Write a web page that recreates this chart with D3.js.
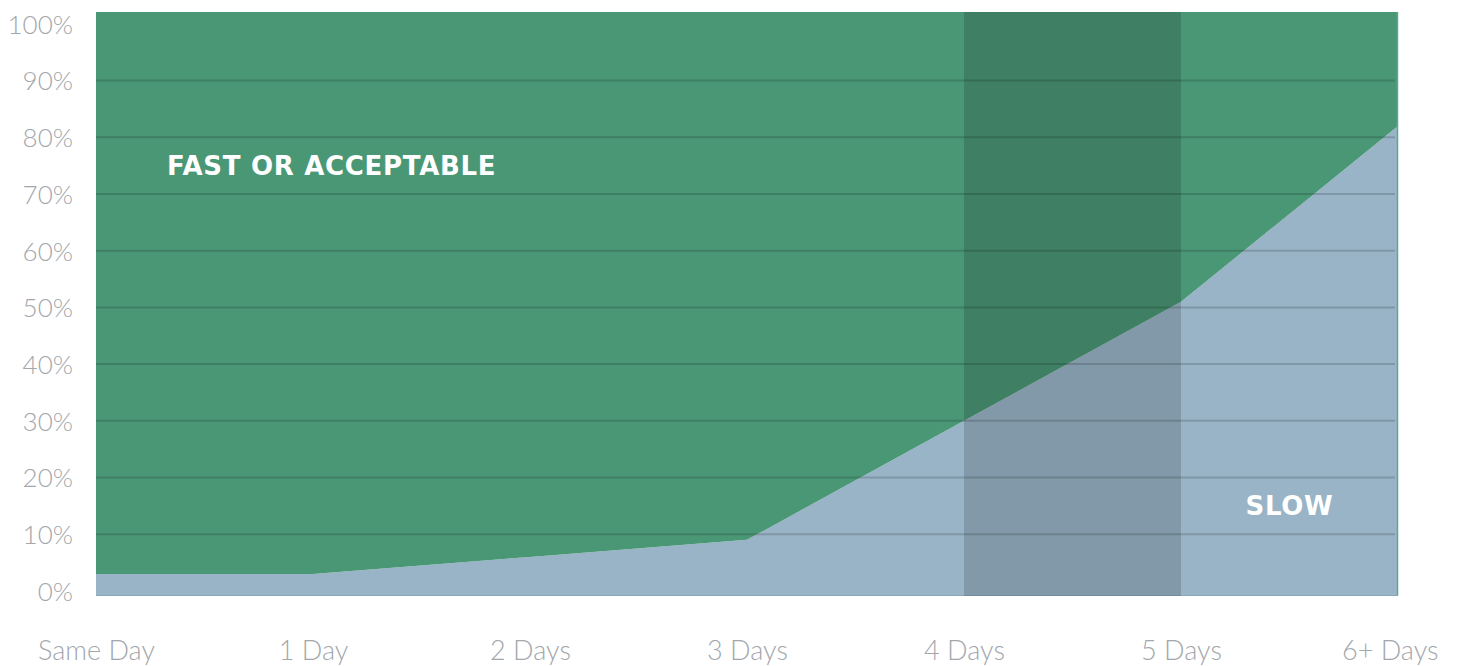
<!DOCTYPE html>
<html>
<head>
<meta charset="utf-8">
<script src="https://cdn.jsdelivr.net/npm/d3@7"></script>
<style>
  html, body { margin: 0; padding: 0; background: #ffffff; }
  svg { display: block; }
</style>
</head>
<body>
<svg id="chart" width="1457" height="666"></svg>
<script>
// ---- data ----
const categories = ["Same Day", "1 Day", "2 Days", "3 Days", "4 Days", "5 Days", "6+ Days"];
const slowValues = [3, 3, 6, 9, 30, 51, 82];           // % "Slow"
const fastValues = slowValues.map(v => 100 - v);       // % "Fast or acceptable" (remainder)
const yTicks = [0, 10, 20, 30, 40, 50, 60, 70, 80, 90, 100];
const gridTicks = [10, 20, 30, 40, 50, 60, 70, 80, 90];
const highlightRange = ["4 Days", "5 Days"];
const seriesLabels = { fast: "FAST OR ACCEPTABLE", slow: "SLOW" };

// ---- layout ----
const W = 1457, H = 666;
const plot = { left: 96, right: 1398, top: 12, bottom: 596 };
const colors = { fast: "#4a9776", slow: "#98b4c6", grid: "rgba(0,0,0,0.16)", band: "rgba(0,0,0,0.15)", tick: "#a3a7ac" };

const svg = d3.select("#chart");

const x = d3.scalePoint().domain(categories).range([plot.left, plot.right]);
const y = d3.scaleLinear().domain([-0.9, 102.1]).range([plot.bottom, plot.top]);

const table = categories.map((c, i) => ({ cat: c, slow: slowValues[i], fast: fastValues[i] }));
const stack = d3.stack().keys(["slow", "fast"]);
const series = stack(table);

const yEdge = v => v <= 0 ? y.range()[0] : (v >= 100 ? y.range()[1] : y(v));
const area = d3.area()
  .x(d => x(d.data.cat))
  .y0(d => yEdge(d[0]))
  .y1(d => yEdge(d[1]));

svg.append("g").selectAll("path")
  .data(series)
  .join("path")
  .attr("d", area)
  .attr("fill", d => colors[d.key]);

// right & bottom edge accents
svg.append("line")
  .attr("x1", plot.right - 0.5).attr("x2", plot.right - 0.5)
  .attr("y1", plot.top).attr("y2", plot.bottom)
  .attr("stroke", "#5fa793").attr("stroke-width", 1.5);
svg.append("line")
  .attr("x1", plot.left).attr("x2", plot.right)
  .attr("y1", plot.bottom - 0.5).attr("y2", plot.bottom - 0.5)
  .attr("stroke", "#8aa9b5").attr("stroke-width", 1);

// highlight band
svg.append("rect")
  .attr("x", x(highlightRange[0]))
  .attr("width", x(highlightRange[1]) - x(highlightRange[0]))
  .attr("y", plot.top)
  .attr("height", plot.bottom - plot.top)
  .attr("fill", colors.band);

// gridlines
svg.append("g").selectAll("line")
  .data(gridTicks)
  .join("line")
  .attr("x1", plot.left)
  .attr("x2", plot.right - 3)
  .attr("y1", d => y(d))
  .attr("y2", d => y(d))
  .attr("stroke", colors.grid)
  .attr("stroke-width", 2);

// y axis
const yAxis = d3.axisLeft(y).tickValues(yTicks).tickFormat(d => d + "%").tickSize(0).tickPadding(0);
const gy = svg.append("g").attr("transform", `translate(${plot.left - 23},1)`).call(yAxis);
gy.select(".domain").remove();
gy.selectAll("text")
  .attr("fill", colors.tick)
  .style("font-family", "Lato, 'Open Sans', sans-serif")
  .style("font-weight", 300)
  .style("font-size", "26px");

// x axis
const xAxis = d3.axisBottom(x).tickSize(0).tickPadding(0);
const gx = svg.append("g").attr("transform", `translate(0,${plot.bottom + 45})`).call(xAxis);
gx.select(".domain").remove();
gx.selectAll("text")
  .attr("fill", colors.tick)
  .style("font-family", "Lato, 'Open Sans', sans-serif")
  .style("font-weight", 300)
  .style("font-size", "27px")
  .attr("text-anchor", (d, i) => i === categories.length - 1 ? "end" : "middle")
  .attr("dx", (d, i) => i === categories.length - 1 ? 40 : 0);

// series labels
const labelStyle = sel => sel
  .attr("fill", "#ffffff")
  .style("font-family", "'DejaVu Sans', Lato, sans-serif")
  .style("font-weight", 700)
  .style("font-size", "26px")
  .style("letter-spacing", "0.7px");

svg.append("text")
  .attr("x", x(categories[0]) + 71)
  .attr("y", y(75))
  .attr("dy", "0.36em")
  .call(labelStyle)
  .text(seriesLabels.fast);

svg.append("text")
  .attr("x", (x(categories[5]) + x(categories[6])) / 2)
  .attr("y", y(15))
  .attr("dy", "0.36em")
  .attr("text-anchor", "middle")
  .call(labelStyle)
  .text(seriesLabels.slow);
</script>
</body>
</html>
